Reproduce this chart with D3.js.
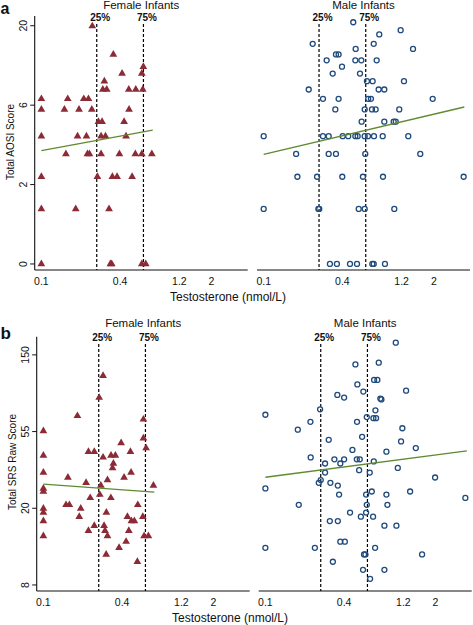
<!DOCTYPE html>
<html><head><meta charset="utf-8">
<script src="https://cdn.jsdelivr.net/npm/d3@7"></script>
<style>
body{margin:0;background:#fff}
svg{display:block}
text{font-family:"Liberation Sans",Arial,Helvetica,sans-serif;fill:#111}
</style>
</head><body>
<svg id="c" width="473" height="625"></svg>
<script>
// ---------- data ----------
const groups = ["Female Infants", "Male Infants"];
const xTickValues = [0.1, 0.4, 1.135, 2.0];
const xTickLabels = ["0.1", "0.4", "1.2", "2"];
const quartiles = [{label: "25%", t: 0.265}, {label: "75%", t: 0.603}];
const aosiTickValues = [0, 1.718, 6.389, 19.09];
const aosiTickLabels = ["0", "2", "6", "20"];
const srsTickValues = [7.389, 20.09, 54.6, 148.4];
const srsTickLabels = ["8", "20", "55", "150"];

// [testosterone nmol/L, score]
const femaleAOSI = [[0.245,19],[0.355,13],[0.414,10],[0.602,11],[0.586,10],[0.303,9],[0.295,8],[0.316,8],[0.466,8],[0.527,8],[0.596,8],
 [0.1,7],[0.159,7],[0.211,7],[0.229,7],
 [0.1,6],[0.150,6],[0.194,6],[0.243,6],[0.468,6],
 [0.273,5],[0.291,5],[0.429,5],
 [0.1,4],[0.189,4],[0.221,4],[0.286,4],[0.309,4],[0.444,4],
 [0.154,3],[0.225,3],[0.233,3],[0.286,3],[0.395,3],[0.523,3],[0.586,3],[0.699,3],
 [0.1,2],[0.268,2],[0.349,2],[0.379,2],[0.494,2],
 [0.1,1],[0.183,1],[0.329,1],
 [0.1,0],[0.337,0],[0.345,0],[0.586,0],[0.628,0]];
const maleAOSI = [[0.484,20],[1.115,18],[0.765,17],[0.237,15],[0.694,15],[0.505,14],[1.386,14],[0.357,13],[0.374,13],
 [0.303,12],[0.502,12],[0.558,12],[0.731,12],[0.397,11],[0.337,10],[0.545,10],[0.616,9],[0.681,9],[1.182,9],
 [0.221,8],[0.757,8],[0.836,8],[0.284,7],[0.374,7],[0.630,7],[0.661,7],[1.96,7],
 [0.353,6],[0.592,6],[0.673,6],[0.718,6],[1.088,6],[0.561,5],[0.836,5],[0.986,5],[1.022,5],
 [0.1,4],[0.284,4],[0.314,4],[0.402,4],[0.443,4],[0.502,4],[0.523,4],[0.592,4],[0.627,4],[0.697,4],[0.813,4],[1.275,4],
 [0.177,3],[0.314,3],[0.357,3],[0.598,3],[1.575,3],
 [0.181,2],[0.256,2],[0.399,2],[0.574,2],[0.817,2],[3.38,2],
 [0.1,1],[0.262,1],[0.266,1],[0.533,1],[0.592,1],[0.997,1],
 [0.321,0],[0.363,0],[0.457,0],[0.517,0],[0.677,0],[0.694,0],[0.846,0]];
const femaleSRS = [[0.286,113],[0.267,85],[0.182,67],[0.582,64],[0.1,55],[0.582,50],[0.393,47],[0.610,44],[0.221,42],[0.245,42],[0.463,42],
 [0.1,40],[0.286,39],[0.329,40],[0.355,40],[0.343,36],[0.338,34],[0.1,32],[0.468,32],[0.154,30],[0.414,30],[0.309,29],[0.212,28],
 [0.694,27],[0.275,27],[0.1,26],[0.1,25],[0.270,24],[0.228,23],[0.328,23],[0.149,21],[0.158,21],[0.527,21],[0.193,20],[0.1,20],
 [0.1,19],[0.303,19],[0.188,18],[0.439,18],[0.576,18],[0.471,17],[0.496,17],[0.1,17],[0.245,16],[0.291,16],[0.296,15],[0.221,15],
 [0.450,15],[0.309,14],[0.1,14],[0.589,14],[0.635,14],[0.429,13],[0.379,12],[0.302,11],[0.523,10]];
const maleSRS = [[0.993,174],[0.736,134],[0.488,131],[0.678,107],[0.718,107],[0.505,101],[0.561,92],[1.191,93],[0.355,88],[0.400,85],
 [0.757,84],[0.771,83],[0.262,73],[0.694,72],[0.1,68],[0.596,66],[0.670,65],[0.702,65],[0.221,62],[0.502,62],[0.177,56],[1.115,57],
 [0.305,49],[0.549,51],[1.090,48],[1.413,44],[0.463,43],[0.842,42],[0.222,39],[0.337,38],[0.400,38],[0.286,36],[0.374,36],[0.500,38],
 [0.527,38],[0.674,37],[1.029,34],[0.521,33],[0.286,32],[0.628,32],[1.984,30],[0.265,29],[0.256,28],[0.314,28],[0.358,27],[0.1,26],
 [0.651,25],[1.278,25],[0.589,24],[0.366,24],[0.842,24],[3.38,23],[0.180,21],[0.596,21],[0.857,21],[0.444,19],[0.589,19],[0.537,18],
 [0.666,18],[0.311,17],[0.358,17],[0.813,16],[1.004,16],[0.374,13],[0.405,13],[0.1,12],[0.239,12],[0.690,12],[0.568,11],[0.582,11],
 [1.578,11],[0.328,10],[0.558,9],[0.813,9],[0.632,8]];

// fitted lines (endpoints, data units)
const fitFemaleAOSI = [[0.1,3.17],[0.71,4.39]];
const fitMaleAOSI = [[0.1,2.98],[3.42,6.22]];
const fitFemaleSRS = [[0.1,27.5],[0.705,24.8]];
const fitMaleSRS = [[0.1,30.1],[3.47,42.4]];

// ---------- drawing ----------
const svg = d3.select("#c");
const COL_F = "#8c2a35", COL_M = "#1f4a7c", COL_FIT = "#5f8a30";
const xDomain = [0.0889, 3.78];

function panel(opt) {
  const x = d3.scaleLog().domain(xDomain).range([opt.x0, opt.x1]);
  const y = opt.y;
  const g = svg.append("g");
  g.append("line").attr("x1", opt.x0).attr("x2", opt.x1).attr("y1", opt.yBottom).attr("y2", opt.yBottom)
    .attr("stroke", "#111").attr("stroke-width", 1.1);
  g.selectAll(".xt").data(xTickValues).join("text")
    .attr("x", d => x(d)).attr("y", opt.yBottom + 15)
    .attr("text-anchor", "middle").attr("font-size", 10.5)
    .text((d, i) => xTickLabels[i]);
  g.append("text").attr("x", (opt.x0 + opt.x1) / 2).attr("y", opt.titleY)
    .attr("text-anchor", "middle").attr("font-size", 11.5).text(opt.title);
  quartiles.forEach(q => {
    g.append("line").attr("x1", x(q.t)).attr("x2", x(q.t))
      .attr("y1", opt.qTop).attr("y2", opt.yBottom)
      .attr("stroke", "#000").attr("stroke-width", 1.2).attr("stroke-dasharray", "3,2");
    g.append("text").attr("x", x(q.t) + 3.5).attr("y", opt.qTop - 3)
      .attr("text-anchor", "middle").attr("font-size", 10).attr("font-weight", "bold").text(q.label);
  });
  if (opt.yAxis) {
    const ax = opt.x0;
    g.append("line").attr("x1", ax).attr("x2", ax).attr("y1", opt.yTop).attr("y2", opt.yBottom)
      .attr("stroke", "#111").attr("stroke-width", 1.1);
    opt.yTicks.forEach((v, i) => {
      const yy = y(v);
      g.append("line").attr("x1", ax - 4.5).attr("x2", ax).attr("y1", yy).attr("y2", yy)
        .attr("stroke", "#111").attr("stroke-width", 1);
      g.append("text").attr("transform", `translate(${ax - 8},${yy}) rotate(-90)`)
        .attr("text-anchor", "middle").attr("font-size", 10.5).text(opt.yTickLabels[i]);
    });
    g.append("text").attr("transform", `translate(${ax - 20.5},${opt.yTitleY}) rotate(-90)`)
      .attr("text-anchor", "middle").attr("font-size", 10).text(opt.yTitle);
  }
  if (opt.female) {
    g.selectAll(".p").data(opt.data).join("path")
      .attr("d", d3.symbol(d3.symbolTriangle).size(26))
      .attr("transform", d => `translate(${x(d[0])},${y(d[1])})`)
      .attr("fill", COL_F);
  } else {
    g.selectAll(".p").data(opt.data).join("circle")
      .attr("cx", d => x(d[0])).attr("cy", d => y(d[1])).attr("r", 2.5)
      .attr("fill", "none").attr("stroke", COL_M).attr("stroke-width", 1.3);
  }
  g.append("path").datum(opt.fit)
    .attr("d", d3.line().x(d => x(d[0])).y(d => y(d[1])))
    .attr("stroke", COL_FIT).attr("stroke-width", 1.3).attr("fill", "none");
}

const yA_lin = d3.scaleLinear().domain([-0.076, 3.123]).range([270, 16]);
const yA = v => yA_lin(Math.log1p(v));
const yB = d3.scaleLog().domain([6.83, 188.1]).range([591, 336.7]);

panel({x0: 34.7, x1: 247.7, y: yA, yTop: 16, yBottom: 270, titleY: 8.5, qTop: 24, title: groups[0],
  female: true, data: femaleAOSI, fit: fitFemaleAOSI, yAxis: true, yTicks: aosiTickValues, yTickLabels: aosiTickLabels,
  yTitle: "Total AOSI Score", yTitleY: 142});
panel({x0: 257, x1: 470, y: yA, yTop: 16, yBottom: 270, titleY: 8.5, qTop: 24, title: groups[1],
  female: false, data: maleAOSI, fit: fitMaleAOSI, yAxis: false});
panel({x0: 36.7, x1: 249.7, y: yB, yTop: 336.7, yBottom: 591, titleY: 327, qTop: 344, title: groups[0],
  female: true, data: femaleSRS, fit: fitFemaleSRS, yAxis: true, yTicks: srsTickValues, yTickLabels: srsTickLabels,
  yTitle: "Total SRS Raw Score", yTitleY: 462});
panel({x0: 258.7, x1: 471.7, y: yB, yTop: 336.7, yBottom: 591, titleY: 327, qTop: 344, title: groups[1],
  female: false, data: maleSRS, fit: fitMaleSRS, yAxis: false});

svg.append("text").attr("x", 228).attr("y", 301).attr("text-anchor", "middle").attr("font-size", 12).text("Testosterone (nmol/L)");
svg.append("text").attr("x", 230).attr("y", 622).attr("text-anchor", "middle").attr("font-size", 12).text("Testosterone (nmol/L)");
svg.append("text").attr("x", 0.5).attr("y", 14).attr("font-size", 16).attr("font-weight", "bold").text("a");
svg.append("text").attr("x", 0.5).attr("y", 339).attr("font-size", 17).attr("font-weight", "bold").text("b");
</script>
</body></html>
